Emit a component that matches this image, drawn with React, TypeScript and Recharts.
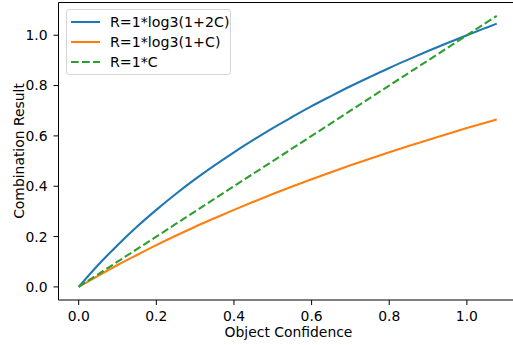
import { LineChart, Line, XAxis, YAxis, Label, ReferenceLine } from 'recharts';

const confidence = [0, 0.05, 0.1, 0.15, 0.2, 0.25, 0.3, 0.35, 0.4, 0.45, 0.5, 0.55, 0.6, 0.65, 0.7, 0.75, 0.8, 0.85, 0.9, 0.95, 1.0, 1.05, 1.077];
const logTwoC = [0, 0.087, 0.166, 0.239, 0.306, 0.369, 0.428, 0.483, 0.535, 0.584, 0.631, 0.675, 0.718, 0.758, 0.797, 0.834, 0.870, 0.904, 0.937, 0.969, 1.0, 1.030, 1.046];
const logOneC = [0, 0.044, 0.087, 0.127, 0.166, 0.203, 0.239, 0.273, 0.306, 0.338, 0.369, 0.399, 0.428, 0.456, 0.483, 0.509, 0.535, 0.560, 0.584, 0.608, 0.631, 0.653, 0.665];
const linearC = [0, 0.05, 0.1, 0.15, 0.2, 0.25, 0.3, 0.35, 0.4, 0.45, 0.5, 0.55, 0.6, 0.65, 0.7, 0.75, 0.8, 0.85, 0.9, 0.95, 1.0, 1.05, 1.077];
const ticks = [0, 0.2, 0.4, 0.6, 0.8, 1.0];
const yTop = 1.13;

const data = confidence.map((c, i) => ({
  c,
  a: logTwoC[i],
  b: logOneC[i],
  d: linearC[i],
}));

const font = '"DejaVu Sans", sans-serif';
const tickStyle = { fill: '#000', fontSize: 13.9, fontFamily: font };

const legendItems = [
  { name: 'R=1*log3(1+2C)', color: '#1f77b4', dash: false },
  { name: 'R=1*log3(1+C)', color: '#ff7f0e', dash: false },
  { name: 'R=1*C', color: '#2ca02c', dash: true },
];

export default function App() {
  return (
    <div style={{ position: 'absolute', left: 0, top: 0, width: 513, height: 345, overflow: 'hidden', background: '#fff' }}>
      <LineChart
        width={530}
        height={345}
        data={data}
        margin={{ top: 2.5, right: 11.5, bottom: 0, left: 0 }}
      >
        <XAxis
          dataKey="c"
          type="number"
          domain={[-0.052, 1.133]}
          allowDataOverflow
          ticks={ticks}
          tickFormatter={(v: number) => v.toFixed(1)}
          height={45}
          stroke="#000"
          tickSize={5}
          tickMargin={6}
          tick={tickStyle}
        >
          <Label
            value="Object Confidence"
            position="insideBottom"
            offset={8}
            style={{ fill: '#000', fontSize: 13.9, fontFamily: font }}
          />
        </XAxis>
        <YAxis
          type="number"
          domain={[-0.052, yTop]}
          allowDataOverflow
          ticks={ticks}
          tickFormatter={(v: number) => v.toFixed(1)}
          width={58.5}
          stroke="#000"
          tickSize={5}
          tickMargin={6}
          tick={tickStyle}
        >
          <Label
            content={() => (
              <text
                x={23.5}
                y={151}
                transform="rotate(-90 23.5 151)"
                textAnchor="middle"
                fill="#000"
                fontSize={13.9}
                fontFamily={font}
              >
                Combination Result
              </text>
            )}
          />
        </YAxis>
        <ReferenceLine y={yTop} stroke="#000" strokeWidth={1.1} ifOverflow="visible" />
        <Line dataKey="a" type="monotone" stroke="#1f77b4" strokeWidth={2.1} dot={false} isAnimationActive={false} />
        <Line dataKey="b" type="monotone" stroke="#ff7f0e" strokeWidth={2.1} dot={false} isAnimationActive={false} />
        <Line dataKey="d" type="linear" stroke="#2ca02c" strokeWidth={2.1} strokeDasharray="7.7 3.3" dot={false} isAnimationActive={false} />
      </LineChart>
      <div
        style={{
          position: 'absolute',
          left: 66,
          top: 9,
          width: 163,
          height: 64,
          border: '1px solid #d6d6d6',
          borderRadius: 3,
          background: 'rgba(255,255,255,0.8)',
          fontFamily: font,
          fontSize: 14.2,
          color: '#000',
        }}
      >
        {legendItems.map((item, i) => (
          <div key={item.name} style={{ position: 'absolute', left: 0, top: 2 + i * 20, height: 20, display: 'flex', alignItems: 'center' }}>
            <svg width={40} height={20} style={{ display: 'block' }}>
              <line
                x1={4}
                x2={33}
                y1={10}
                y2={10}
                stroke={item.color}
                strokeWidth={2.1}
                strokeDasharray={item.dash ? '7.7 3.3' : undefined}
              />
            </svg>
            <span style={{ marginLeft: 3, whiteSpace: 'nowrap' }}>{item.name}</span>
          </div>
        ))}
      </div>
    </div>
  );
}
